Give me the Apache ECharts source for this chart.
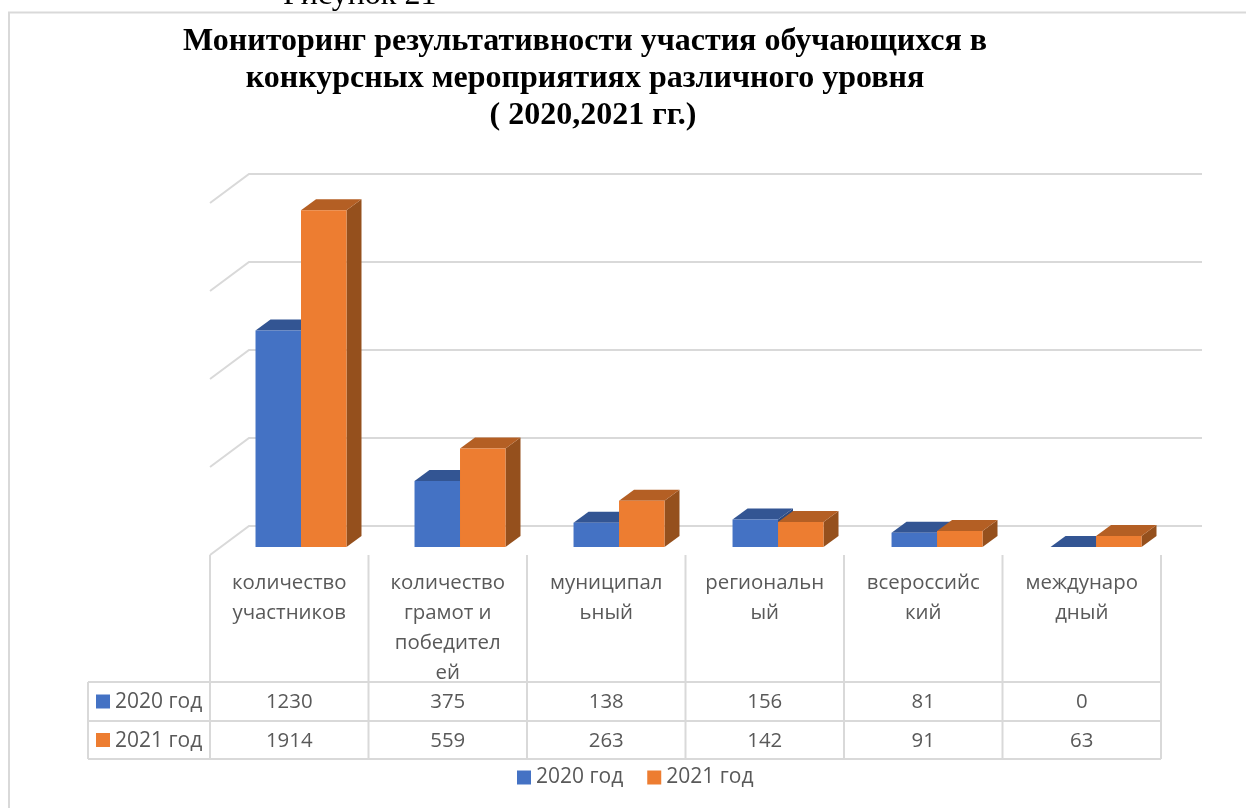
<!DOCTYPE html>
<html><head><meta charset="utf-8">
<style>html,body{margin:0;padding:0;background:#fff;overflow:hidden}#c{width:1246px;height:808px}</style>
<script src="https://cdn.jsdelivr.net/npm/echarts@6/dist/echarts.min.js"></script>
</head><body><div id="c"></div>
<script>
const categories = ['количество\nучастников','количество\nграмот и\nпобедител\nей','муниципал\nьный','региональн\nый','всероссийс\nкий','междунаро\nдный'];
const seriesNames = ['2020 год','2021 год'];
const values2020 = [1230,375,138,156,81,0];
const values2021 = [1914,559,263,142,91,63];
const gridTicks = [0,500,1000,1500,2000];

const FONT = '"Open Sans","Noto Sans",sans-serif';
const FS = 20.4, FS_KEY = 21;
const TXT = '#595959', LINE = '#d9d9d9';
const palette = [
  {front:'#4472C4', top:'#335593', side:'#2B4A80'},
  {front:'#ED7D31', top:'#B45F24', side:'#95501D'}
];
const WALL = {x:39, y:-29}, BAR_OFF = {x:11.5, y:-8}, BAR_DEPTH = {x:15, y:-11}, BAR_PERSP = 1.0032;
const GRID_LEFT = 210;
const ROW_TOP = 682, ROW_MID = 721, ROW_BOT = 759, FLOOR_Y = 555;

function barItem(si){
  return function(params, api){
    const i = api.value(0), v = api.value(1);
    const base = api.coord([i, 0]), top = api.coord([i, v]);
    const band = api.size([1, 0])[0], w = band * 0.287;
    const cx = GRID_LEFT + (base[0]-GRID_LEFT)*BAR_PERSP + BAR_OFF.x;
    const x0 = cx + (si === 0 ? -w : 0), x1 = x0 + w;
    const y0 = base[1] + BAR_OFF.y, y1 = top[1] + BAR_OFF.y;
    const d = BAR_DEPTH, c = palette[si];
    const kids = [];
    kids.push({type:'polygon', shape:{points:[[x1,y0],[x1+d.x,y0+d.y],[x1+d.x,y1+d.y],[x1,y1]]}, style:{fill:c.side}});
    kids.push({type:'polygon', shape:{points:[[x0,y1],[x1,y1],[x1+d.x,y1+d.y],[x0+d.x,y1+d.y]]}, style:{fill:c.top}});
    if (y0 - y1 > 0) kids.push({type:'rect', shape:{x:x0,y:y1,width:w,height:y0-y1}, style:{fill:c.front}});
    return {type:'group', children:kids};
  };
}
function wallItem(params, api){
  const v = api.value(0), n = categories.length;
  const band = api.size([1, 0])[0];
  const a = api.coord([0, v]), b = api.coord([n-1, v]);
  const xl = a[0]-band/2, xr = b[0]+band/2, y = a[1];
  return {type:'polyline', shape:{points:[[xl,y],[xl+WALL.x,y+WALL.y],[xr+WALL.x+2,y+WALL.y]]},
    style:{stroke:LINE, lineWidth:2, fill:null}};
}
function cellItem(params, api){
  const i = api.value(0), band = api.size([1,0])[0], cx = api.coord([i,0])[0];
  const xr = cx + band/2;
  const txt = (s,y)=>({type:'text', style:{text:String(s), x:cx, y:y, align:'center', verticalAlign:'middle',
     font:FS+'px '+FONT, fill:TXT}});
  return {type:'group', children:[
    {type:'line', shape:{x1:xr,y1:FLOOR_Y,x2:xr,y2:ROW_BOT}, style:{stroke:LINE,lineWidth:2}},
    txt(api.value(1),(ROW_TOP+ROW_MID)/2+1), txt(api.value(2),(ROW_MID+ROW_BOT)/2+1)
  ]};
}
const hline = (x1,x2,y)=>({type:'line', shape:{x1,y1:y,x2,y2:y}, style:{stroke:LINE,lineWidth:2}});
const vline = (x,y1,y2)=>({type:'line', shape:{x1:x,y1,x2:x,y2}, style:{stroke:LINE,lineWidth:2}});
const key = (i,y)=>[
  {type:'rect', shape:{x:96,y:y-7,width:14,height:14}, style:{fill:palette[i].front}},
  {type:'text', style:{text:seriesNames[i], x:115, y:y+1, verticalAlign:'middle', font:FS_KEY+'px '+FONT, fill:TXT}}
];

const chart = echarts.init(document.getElementById('c'), null, {renderer:'canvas'});
chart.setOption({
  animation:false,
  backgroundColor:'#fff',
  title:{text:'Мониторинг результативности участия обучающихся в\nконкурсных мероприятиях различного уровня\n  ( 2020,2021 гг.)',
    left:580, top:18, textAlign:'center',
    textStyle:{fontFamily:'"Liberation Serif",serif', fontWeight:'bold', fontSize:32, lineHeight:37, color:'#000'}},
  legend:{left:512, top:762, itemWidth:14, itemHeight:14, itemGap:24, icon:'rect', data:seriesNames,
    textStyle:{fontFamily:FONT, fontSize:FS_KEY, color:TXT}},
  grid:{left:GRID_LEFT, top:203, width:951, height:352},
  xAxis:{type:'category', data:categories, axisLine:{show:false}, axisTick:{show:false}, splitLine:{show:false},
    axisLabel:{interval:0, margin:13, fontFamily:FONT, fontSize:FS, lineHeight:30, color:TXT, align:'center', verticalAlign:'top'}},
  yAxis:{type:'value', min:0, max:2000, interval:500, axisLine:{show:false}, axisTick:{show:false},
    axisLabel:{show:false}, splitLine:{show:false}},
  graphic:{elements:[
    {type:'polyline', silent:true, shape:{points:[[9,808],[9,12.5],[1246,12.5]]}, style:{stroke:LINE,lineWidth:2,fill:null}},
    {type:'text', style:{text:'Рисунок 21', x:283, y:-20, font:'32px "Liberation Serif",serif', fill:'#000'}},
    vline(88,ROW_TOP,ROW_BOT), vline(GRID_LEFT,FLOOR_Y,ROW_BOT),
    hline(88,1161,ROW_TOP), hline(88,1161,ROW_MID), hline(88,1161,ROW_BOT),
    ...key(0,(ROW_TOP+ROW_MID)/2), ...key(1,(ROW_MID+ROW_BOT)/2)
  ]},
  series:[
    {type:'custom', name:'wall', silent:true, clip:false, z:1, renderItem:wallItem, data:gridTicks.map(v=>[v]), encode:{y:0}},
    {type:'custom', name:'table', silent:true, clip:false, z:1, renderItem:cellItem,
      data:categories.map((c,i)=>[i,values2020[i],values2021[i]]), encode:{x:0}},
    {type:'custom', name:seriesNames[0], clip:false, z:3, renderItem:barItem(0), itemStyle:{color:palette[0].front},
      data:values2020.map((v,i)=>[i,v]), encode:{x:0,y:1}},
    {type:'custom', name:seriesNames[1], clip:false, z:4, renderItem:barItem(1), itemStyle:{color:palette[1].front},
      data:values2021.map((v,i)=>[i,v]), encode:{x:0,y:1}}
  ]
});
</script></body></html>
